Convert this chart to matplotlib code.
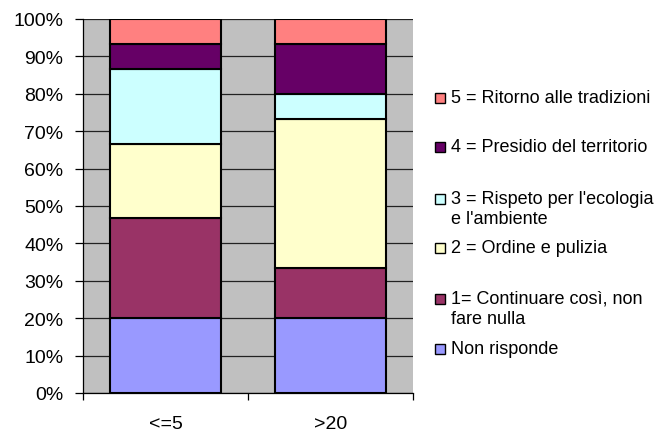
import matplotlib.pyplot as plt
from matplotlib.patches import Rectangle
import numpy as np

plt.rcParams['font.family'] = ['Liberation Sans', 'DejaVu Sans']

categories = ["<=5", ">20"]
series_names = [
    "Non risponde",
    "1= Continuare così, non\nfare nulla",
    "2 = Ordine e pulizia",
    "3 = Rispeto per l'ecologia\ne l'ambiente",
    "4 = Presidio del territorio",
    "5 = Ritorno alle tradizioni",
]
# percentages per category (each bar sums to 100)
non_risponde = [20.0, 20.0]
continuare = [26.7, 13.3]
ordine = [20.0, 40.0]
ecologia = [20.0, 6.7]
presidio = [6.7, 13.3]
tradizioni = [6.6, 6.7]
colors = ["#9999FF", "#993366", "#FFFFCC", "#CCFFFF", "#660066", "#FF8080"]

values = [non_risponde, continuare, ordine, ecologia, presidio, tradizioni]

W, H = 663, 435
fig = plt.figure(figsize=(W / 100, H / 100), dpi=100)
ax = fig.add_axes([83 / W, 41 / H, 330 / W, 374 / H])
ax.set_facecolor("#C0C0C0")

x = np.arange(len(categories))
bottom = np.zeros(len(categories))
for name, vals, col in zip(series_names, values, colors):
    frac = np.array(vals) / 100.0
    ax.bar(x, frac, 0.667, bottom=bottom, color=col, edgecolor="black",
           linewidth=1.5, label=name, zorder=3)
    bottom += frac

ax.set_xlim(-0.5, 1.5)
ax.set_ylim(0, 1)
yt = np.arange(0, 1.01, 0.1)
ax.set_yticks(yt)
ax.set_yticklabels([f"{int(round(v * 100))}%" for v in yt], fontsize=14)
ax.yaxis.grid(True, color="#222222", linewidth=0.9, zorder=0)
ax.set_axisbelow(True)
ax.tick_params(axis="y", length=6, width=0.9, direction="out", pad=8)

ax.set_xticks([-0.5, 0.5, 1.5])
ax.set_xticklabels([])
ax.set_xticks(x, minor=True)
ax.set_xticklabels(categories, minor=True, fontsize=14)
ax.tick_params(axis="x", which="major", length=5, width=0.9, direction="out")
ax.tick_params(axis="x", which="minor", length=0, pad=16)

for s in ["top", "right"]:
    ax.spines[s].set_visible(False)
ax.spines["left"].set_linewidth(0.9)
ax.spines["bottom"].set_linewidth(0.9)

# legend drawn by hand to copy the uneven spacing of the original
legend_rows = [99, 148, 200, 249, 300, 350]  # pixel row of first text line
for name, col, row in zip(series_names[::-1], colors[::-1], legend_rows):
    yf = 1 - row / H
    fig.patches.append(Rectangle((435 / W, yf - 5 / H), 10 / W, 10 / H,
                                 transform=fig.transFigure, facecolor=col,
                                 edgecolor="black", linewidth=1.0))
    fig.text(451 / W, yf + 9 / H, name, fontsize=13, va="top", ha="left",
             linespacing=1.2)

fig.savefig("out.png", dpi=100)
